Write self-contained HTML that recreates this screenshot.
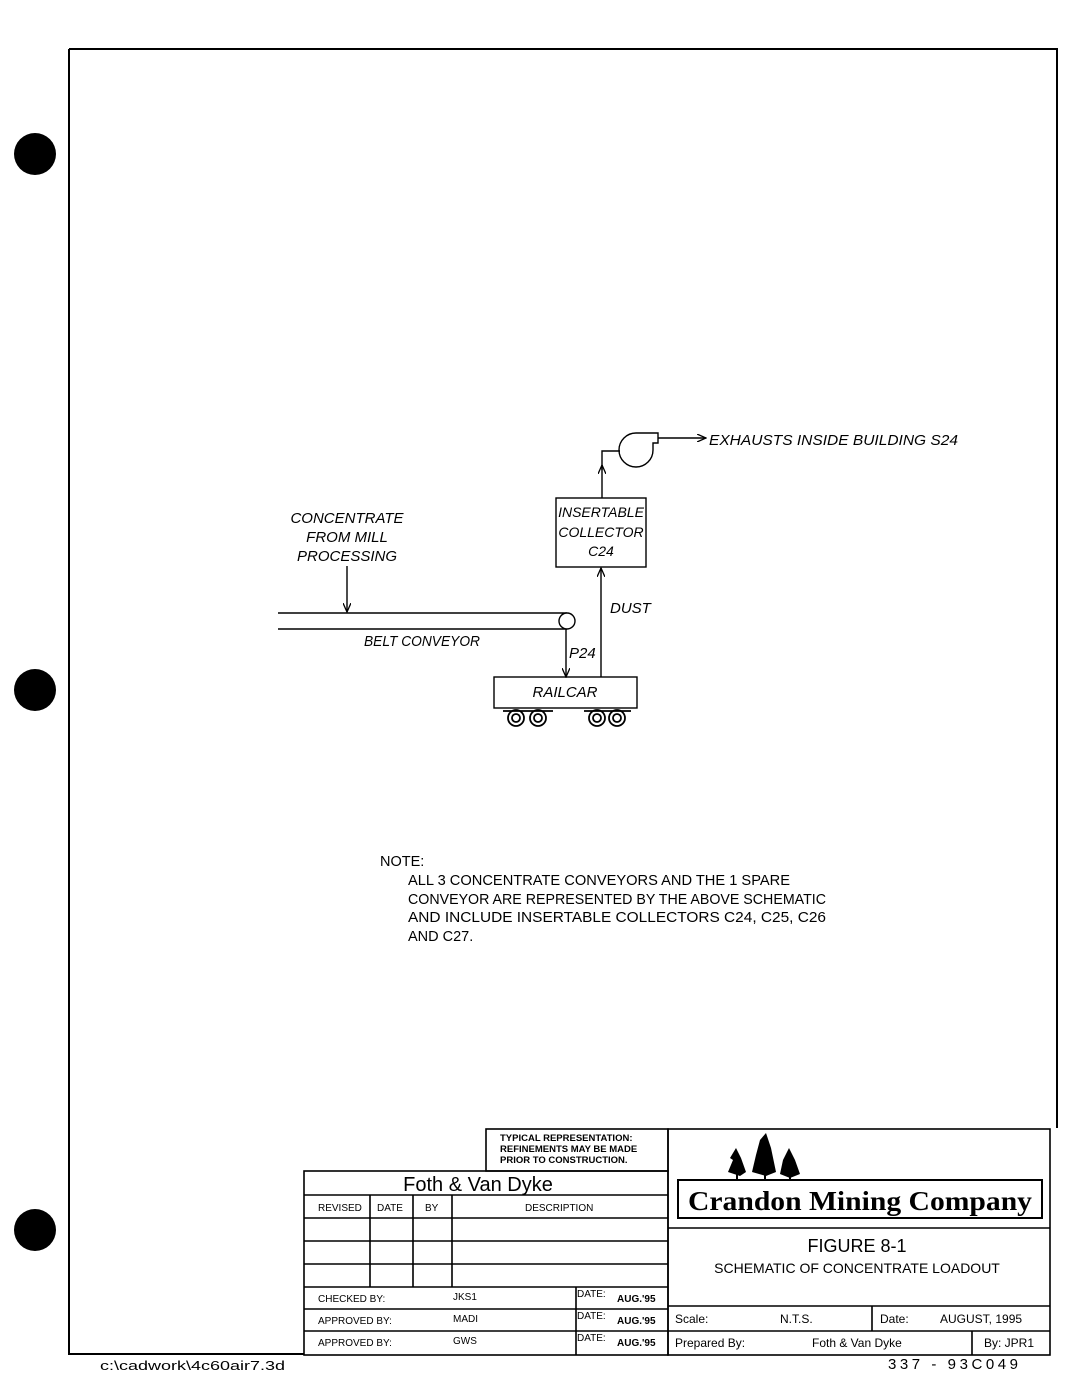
<!DOCTYPE html>
<html><head><meta charset="utf-8"><style>
body{margin:0;background:#fff}
svg{display:block}
text{font-family:"Liberation Sans",sans-serif;fill:#000}
.i{font-style:italic;font-size:15px}
</style></head><body>
<svg width="1068" height="1380" viewBox="0 0 1068 1380" xmlns="http://www.w3.org/2000/svg">
<defs><marker id="a" markerWidth="10" markerHeight="8" refX="9" refY="4" orient="auto" markerUnits="userSpaceOnUse"><path d="M0,0 L9,4 L0,8" fill="none" stroke="#000" stroke-width="1.3"/></marker></defs>
<g fill="#000"><circle cx="35" cy="154" r="21"/><circle cx="35" cy="690" r="21"/><circle cx="35" cy="1230" r="21"/></g>
<g fill="none" stroke="#000" stroke-width="2">
<path d="M69,49 H1057 V1128 M69,49 V1354 H304"/>
</g>
<g fill="none" stroke="#000" stroke-width="1.4">
<line x1="278" y1="613" x2="567" y2="613"/><line x1="278" y1="629" x2="567" y2="629"/>
<circle cx="567" cy="621" r="8" fill="#fff"/>
<line x1="347" y1="566" x2="347" y2="612" marker-end="url(#a)"/>
<line x1="566" y1="629" x2="566" y2="677" marker-end="url(#a)"/>
<rect x="494" y="677" width="143" height="31"/>
<line x1="601" y1="677" x2="601" y2="568" marker-end="url(#a)"/>
<rect x="556" y="498" width="90" height="69"/>
<line x1="602" y1="498" x2="602" y2="465" marker-end="url(#a)"/>
<path d="M602,470 V451 H620"/>
<path d="M636,433 A17,17 0 1 0 653,450 V443 H658 V433 H636"/>
<line x1="658" y1="438" x2="706" y2="438" marker-end="url(#a)"/>
<g stroke-width="1.8"><circle cx="516" cy="718" r="8"/><circle cx="516" cy="718" r="4"/><circle cx="538" cy="718" r="8"/><circle cx="538" cy="718" r="4"/><circle cx="597" cy="718" r="8"/><circle cx="597" cy="718" r="4"/><circle cx="617" cy="718" r="8"/><circle cx="617" cy="718" r="4"/>
<path d="M503,711 h50 M584,711 h47"/></g>
</g>
<text class="i" x="709" y="445" textLength="249" lengthAdjust="spacingAndGlyphs">EXHAUSTS INSIDE BUILDING S24</text>
<g class="i" text-anchor="middle"><text x="347" y="523">CONCENTRATE</text><text x="347" y="542">FROM MILL</text><text x="347" y="561">PROCESSING</text>
<text x="601" y="517" font-size="14">INSERTABLE</text><text x="601" y="537" font-size="14">COLLECTOR</text><text x="601" y="556" font-size="14">C24</text>
<text x="565" y="697">RAILCAR</text></g>
<text class="i" x="610" y="613">DUST</text>
<text class="i" x="569" y="658">P24</text>
<text class="i" x="364" y="646" textLength="116" lengthAdjust="spacingAndGlyphs">BELT CONVEYOR</text>
<g font-size="14.5"><text x="380" y="866">NOTE:</text>
<text x="408" y="885" textLength="382" lengthAdjust="spacingAndGlyphs">ALL 3 CONCENTRATE CONVEYORS AND THE 1 SPARE</text>
<text x="408" y="904" textLength="418" lengthAdjust="spacingAndGlyphs">CONVEYOR ARE REPRESENTED BY THE ABOVE SCHEMATIC</text>
<text x="408" y="922" textLength="418" lengthAdjust="spacingAndGlyphs">AND INCLUDE INSERTABLE COLLECTORS C24, C25, C26</text>
<text x="408" y="941">AND C27.</text></g>
<g fill="none" stroke="#000" stroke-width="1.6">
<rect x="304" y="1171" width="364" height="184"/>
<rect x="486" y="1129" width="182" height="42"/>
<rect x="668" y="1129" width="382" height="226"/>
<path d="M304,1195 H668 M304,1218 H668 M304,1241 H668 M304,1264 H668 M304,1287 H668 M304,1309 H668 M304,1331 H668"/>
<path d="M370,1195 V1287 M413,1195 V1287 M452,1195 V1287 M576,1287 V1355"/>
<rect x="678" y="1180" width="364" height="38" stroke-width="2"/>
<path d="M668,1228 H1050 M668,1306 H1050 M668,1331 H1050 M872,1306 V1331 M972,1331 V1355"/>
</g>
<g font-size="9.5" font-weight="bold"><text x="500" y="1141">TYPICAL REPRESENTATION:</text><text x="500" y="1152">REFINEMENTS MAY BE MADE</text><text x="500" y="1163">PRIOR TO CONSTRUCTION.</text></g>
<text x="478" y="1191" font-size="20" text-anchor="middle">Foth &amp; Van Dyke</text>
<g font-size="10"><text x="318" y="1211">REVISED</text><text x="377" y="1211">DATE</text><text x="425" y="1211">BY</text><text x="525" y="1211">DESCRIPTION</text>
<text x="318" y="1302">CHECKED BY:</text><text x="453" y="1300">JKS1</text><text x="577" y="1297">DATE:</text><text x="617" y="1302" font-weight="bold">AUG.'95</text>
<text x="318" y="1324">APPROVED BY:</text><text x="453" y="1322">MADI</text><text x="577" y="1319">DATE:</text><text x="617" y="1324" font-weight="bold">AUG.'95</text>
<text x="318" y="1346">APPROVED BY:</text><text x="453" y="1344">GWS</text><text x="577" y="1341">DATE:</text><text x="617" y="1346" font-weight="bold">AUG.'95</text></g>
<g font-size="12"><text x="675" y="1323">Scale:</text><text x="780" y="1323">N.T.S.</text><text x="880" y="1323">Date:</text><text x="940" y="1323">AUGUST, 1995</text>
<text x="675" y="1347">Prepared By:</text><text x="812" y="1347">Foth &amp; Van Dyke</text><text x="984" y="1347">By: JPR1</text></g>
<text x="688" y="1210" font-weight="bold" font-size="27" textLength="344" lengthAdjust="spacingAndGlyphs" style="font-family:'Liberation Serif',serif">Crandon Mining Company</text>
<text x="857" y="1252" font-size="18" text-anchor="middle">FIGURE 8-1</text>
<text x="857" y="1273" font-size="14" text-anchor="middle">SCHEMATIC OF CONCENTRATE LOADOUT</text>
<g fill="#000"><path d="M740,1176 L728,1172 L733,1160 L730,1158 L736,1148 L741,1158 L746,1172 Z"/><path d="M766,1176 L752,1172 L756,1155 L760,1140 L766,1133 L771,1148 L776,1172 Z"/><path d="M790,1178 L780,1174 L783,1160 L789,1148 L795,1160 L800,1174 Z"/>
<rect x="736" y="1172" width="2" height="8"/><rect x="764" y="1172" width="2" height="8"/><rect x="789" y="1172" width="2" height="8"/></g>
<text x="888" y="1369" font-size="15" textLength="130" lengthAdjust="spacing">337  -  93C049</text>
<text x="100" y="1370" font-size="13" textLength="185" lengthAdjust="spacingAndGlyphs">c:\cadwork\4c60air7.3d</text>
</svg>
</body></html>
